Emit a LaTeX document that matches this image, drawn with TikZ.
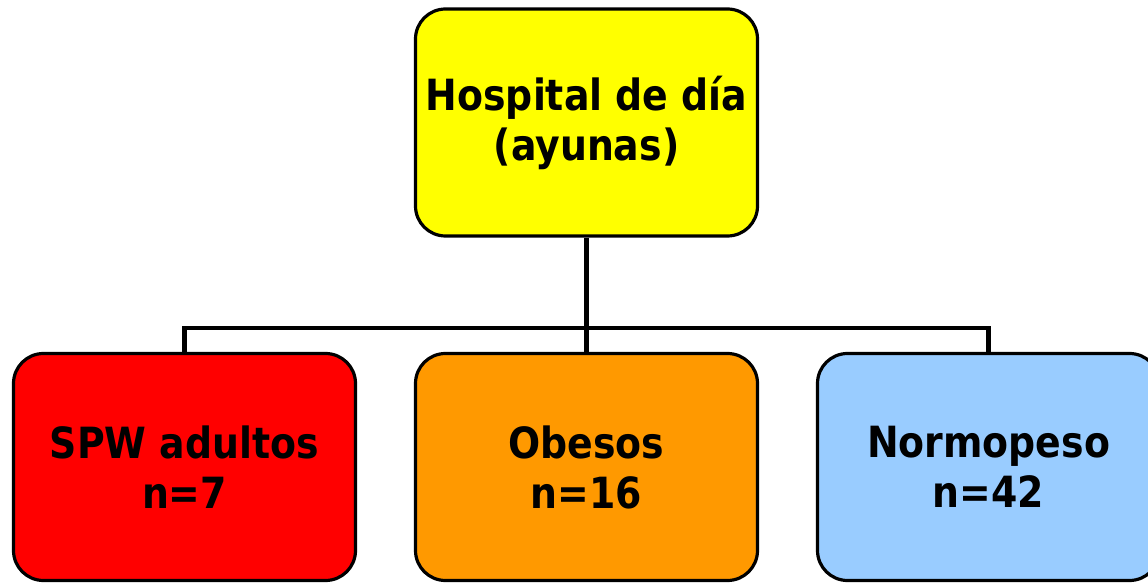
\documentclass[tikz,border=0pt]{standalone}
\usepackage{fontspec}
\newfontfamily\boxfont{DejaVu Sans}[FakeStretch=0.88]
\definecolor{cyellow}{HTML}{FFFF00}
\definecolor{cred}{HTML}{FF0000}
\definecolor{corange}{HTML}{FF9900}
\definecolor{cblue}{HTML}{99CCFF}
\begin{document}
\begin{tikzpicture}[x=1pt,y=1pt,
  box/.style={draw=black, line width=3.2pt, rounded corners=30pt,
    minimum width=342pt, minimum height=227pt, inner sep=0pt,
    align=center, font=\boxfont\bfseries\fontsize{43}{50}\selectfont},
  conn/.style={draw=black, line width=4.5pt, line join=miter}]
\useasboundingbox (0,0) rectangle (1148,584);
\clip (0,0) rectangle (1148,584);
\fill[white] (0,0) rectangle (1148,584);
\node[box, fill=cyellow] (top) at (586.5,461.5) {Hospital de día\\(ayunas)};
\node[box, fill=cred] (spw) at (184.5,117) {SPW adultos\\n=7};
\node[box, fill=corange] (obe) at (586.5,117) {Obesos\\n=16};
\node[box, fill=cblue] (nor) at (988.5,117) {Normopeso\\n=42};
\coordinate (j) at (586.5,256);
\draw[conn] (top.south) -- (j);
\draw[conn] (spw.north) -- (spw.north |- j) -- (nor.north |- j) -- (nor.north);
\draw[conn] (j) -- (obe.north);
\end{tikzpicture}
\end{document}
